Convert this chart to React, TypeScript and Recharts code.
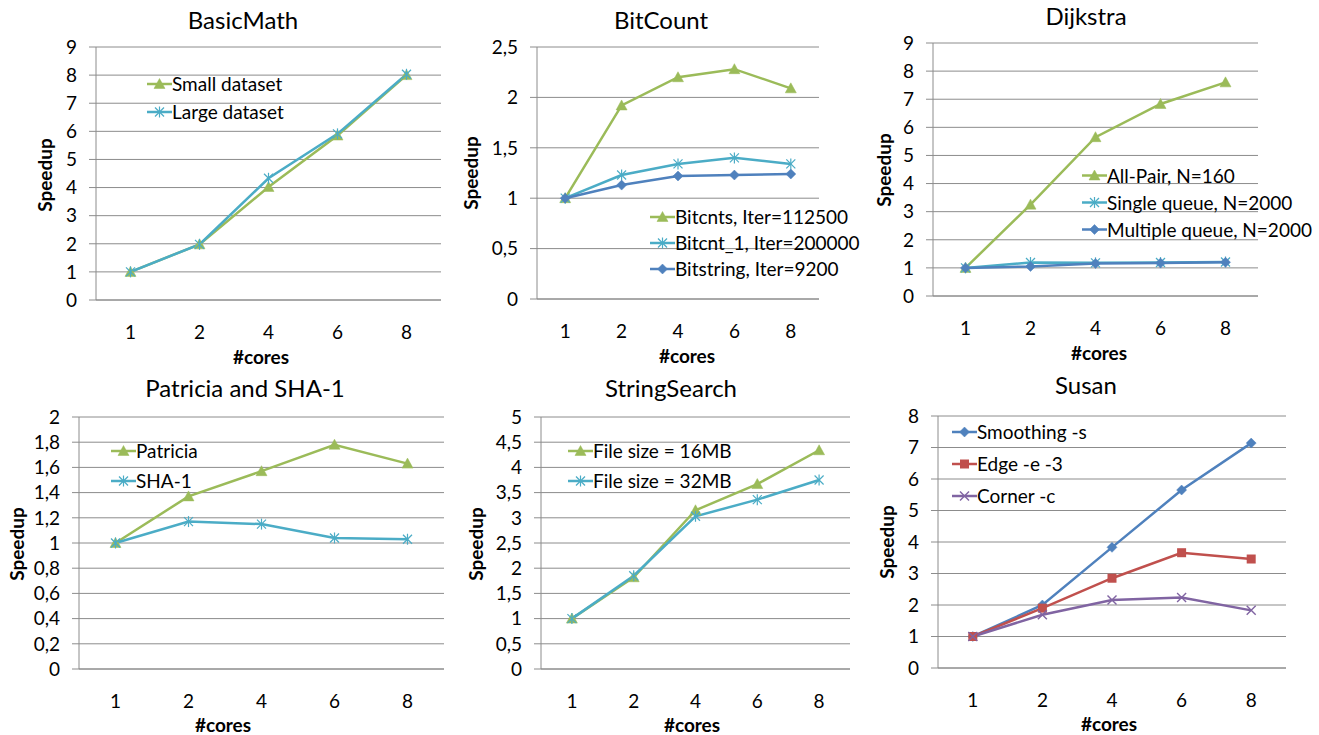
import React from 'react';
import { LineChart, Line, XAxis, YAxis, CartesianGrid, Legend } from 'recharts';

// ---------- DATA ----------
const cores = ['1', '2', '4', '6', '8'];

const basicSmall = [1, 1.98, 4.02, 5.85, 8.0];
const basicLarge = [1, 1.98, 4.33, 5.91, 8.03];
const basicTicks = [0, 1, 2, 3, 4, 5, 6, 7, 8, 9];

const bitcnts = [1, 1.92, 2.2, 2.28, 2.09];
const bitcnt1 = [1, 1.23, 1.34, 1.4, 1.34];
const bitstring = [1, 1.13, 1.22, 1.23, 1.24];
const bitTicks = [0, 0.5, 1, 1.5, 2, 2.5];

const allPair = [1, 3.25, 5.65, 6.83, 7.6];
const singleQueue = [1, 1.19, 1.18, 1.19, 1.21];
const multipleQueue = [1, 1.05, 1.16, 1.17, 1.2];
const dijTicks = [0, 1, 2, 3, 4, 5, 6, 7, 8, 9];

const patricia = [1, 1.37, 1.57, 1.78, 1.63];
const sha1 = [1, 1.17, 1.15, 1.04, 1.03];
const patTicks = [0, 0.2, 0.4, 0.6, 0.8, 1, 1.2, 1.4, 1.6, 1.8, 2];

const ss16 = [1, 1.82, 3.15, 3.67, 4.34];
const ss32 = [1, 1.85, 3.03, 3.36, 3.75];
const ssTicks = [0, 0.5, 1, 1.5, 2, 2.5, 3, 3.5, 4, 4.5, 5];

const smoothing = [1, 2.0, 3.83, 5.65, 7.14];
const edge = [1, 1.9, 2.85, 3.66, 3.46];
const corner = [1, 1.69, 2.16, 2.24, 1.83];
const susanTicks = [0, 1, 2, 3, 4, 5, 6, 7, 8];

// ---------- STYLE ----------
const FONT = 'Lato, "Open Sans", sans-serif';
const GREEN = '#9BBB59';
const CYAN = '#4BACC6';
const BLUE = '#4F81BD';
const RED = '#C0504D';
const PURPLE = '#8064A2';
const GRID = '#8c8c8c';
const TEXT_SIZE = 19;

type Shape = 'triangle' | 'star' | 'diamond' | 'square' | 'x';
interface Series { name: string; values: number[]; color: string; shape: Shape; }
interface Box { x: number; y: number; w: number; h: number; }
interface Plot { l: number; r: number; t: number; b: number; }
interface Cfg {
  title: string;
  box: Box;
  plot: Plot;
  ticks: number[];
  series: Series[];
  legend: { x: number; y: number; rowH: number };
  titlePos: { x: number; y: number };
  yLabelPos: { x: number; y: number };
  xLabelPos: { x: number; y: number };
}

function Marker({ shape, color, cx, cy }: { shape: Shape; color: string; cx: number; cy: number }) {
  if (cx == null || cy == null || isNaN(cx) || isNaN(cy)) return <g />;
  switch (shape) {
    case 'triangle':
      return <polygon points={`${cx},${cy - 5.5} ${cx + 5.5},${cy + 4.5} ${cx - 5.5},${cy + 4.5}`} fill={color} stroke={color} strokeWidth={0.5} />;
    case 'diamond':
      return <polygon points={`${cx},${cy - 5} ${cx + 5},${cy} ${cx},${cy + 5} ${cx - 5},${cy}`} fill={color} stroke={color} strokeWidth={0.5} />;
    case 'square':
      return <rect x={cx - 4.5} y={cy - 4.5} width={9} height={9} fill={color} />;
    case 'x':
      return (
        <g stroke={color} strokeWidth={1.4}>
          <line x1={cx - 4.5} y1={cy - 4.5} x2={cx + 4.5} y2={cy + 4.5} />
          <line x1={cx - 4.5} y1={cy + 4.5} x2={cx + 4.5} y2={cy - 4.5} />
        </g>
      );
    case 'star':
    default:
      return (
        <g stroke={color} strokeWidth={1.2}>
          <line x1={cx - 4.5} y1={cy - 4.5} x2={cx + 4.5} y2={cy + 4.5} />
          <line x1={cx - 4.5} y1={cy + 4.5} x2={cx + 4.5} y2={cy - 4.5} />
          <line x1={cx} y1={cy - 5.5} x2={cx} y2={cy + 5.5} />
        </g>
      );
  }
}

const makeDot = (shape: Shape, color: string) => (props: any) => {
  const { cx, cy, index } = props;
  return <Marker key={`dot-${index}`} shape={shape} color={color} cx={cx} cy={cy} />;
};

const fmt = (v: number) => String(v).replace('.', ',');

const panels: Cfg[] = [
  {
    title: 'BasicMath',
    box: { x: 0, y: 0, w: 450, h: 370 },
    plot: { l: 96, r: 441, t: 47, b: 300 },
    ticks: basicTicks,
    series: [
      { name: 'Small dataset', values: basicSmall, color: GREEN, shape: 'triangle' },
      { name: 'Large dataset', values: basicLarge, color: CYAN, shape: 'star' },
    ],
    legend: { x: 147, y: 84, rowH: 28 },
    titlePos: { x: 243, y: 20 },
    yLabelPos: { x: 45, y: 175 },
    xLabelPos: { x: 261, y: 357 },
  },
  {
    title: 'BitCount',
    box: { x: 450, y: 0, w: 420, h: 370 },
    plot: { l: 537, r: 819, t: 47, b: 299 },
    ticks: bitTicks,
    series: [
      { name: 'Bitcnts, Iter=112500', values: bitcnts, color: GREEN, shape: 'triangle' },
      { name: 'Bitcnt_1, Iter=200000', values: bitcnt1, color: CYAN, shape: 'star' },
      { name: 'Bitstring, Iter=9200', values: bitstring, color: BLUE, shape: 'diamond' },
    ],
    legend: { x: 650, y: 217, rowH: 26 },
    titlePos: { x: 661, y: 20 },
    yLabelPos: { x: 471, y: 173 },
    xLabelPos: { x: 687, y: 356 },
  },
  {
    title: 'Dijkstra',
    box: { x: 870, y: 0, w: 449, h: 370 },
    plot: { l: 933, r: 1258, t: 43, b: 296 },
    ticks: dijTicks,
    series: [
      { name: 'All-Pair, N=160', values: allPair, color: GREEN, shape: 'triangle' },
      { name: 'Single queue, N=2000', values: singleQueue, color: CYAN, shape: 'star' },
      { name: 'Multiple queue, N=2000', values: multipleQueue, color: BLUE, shape: 'diamond' },
    ],
    legend: { x: 1082, y: 175, rowH: 27 },
    titlePos: { x: 1086, y: 16 },
    yLabelPos: { x: 884, y: 170 },
    xLabelPos: { x: 1099, y: 353 },
  },
  {
    title: 'Patricia and SHA-1',
    box: { x: 0, y: 370, w: 450, h: 365 },
    plot: { l: 79, r: 444, t: 417, b: 669 },
    ticks: patTicks,
    series: [
      { name: 'Patricia', values: patricia, color: GREEN, shape: 'triangle' },
      { name: 'SHA-1', values: sha1, color: CYAN, shape: 'star' },
    ],
    legend: { x: 111, y: 451, rowH: 30 },
    titlePos: { x: 245, y: 388 },
    yLabelPos: { x: 17, y: 544 },
    xLabelPos: { x: 223, y: 725 },
  },
  {
    title: 'StringSearch',
    box: { x: 450, y: 370, w: 420, h: 365 },
    plot: { l: 541, r: 850, t: 417, b: 669 },
    ticks: ssTicks,
    series: [
      { name: 'File size = 16MB', values: ss16, color: GREEN, shape: 'triangle' },
      { name: 'File size = 32MB', values: ss32, color: CYAN, shape: 'star' },
    ],
    legend: { x: 568, y: 451, rowH: 30 },
    titlePos: { x: 671, y: 388 },
    yLabelPos: { x: 476, y: 544 },
    xLabelPos: { x: 692, y: 725 },
  },
  {
    title: 'Susan',
    box: { x: 870, y: 370, w: 449, h: 365 },
    plot: { l: 938, r: 1286, t: 416, b: 668 },
    ticks: susanTicks,
    series: [
      { name: 'Smoothing -s', values: smoothing, color: BLUE, shape: 'diamond' },
      { name: 'Edge -e -3', values: edge, color: RED, shape: 'square' },
      { name: 'Corner -c', values: corner, color: PURPLE, shape: 'x' },
    ],
    legend: { x: 952, y: 432, rowH: 32 },
    titlePos: { x: 1086, y: 385 },
    yLabelPos: { x: 887, y: 542 },
    xLabelPos: { x: 1109, y: 724 },
  },
];

function Txt({ x, y, children, size, bold, rotate }: any) {
  return (
    <div
      style={{
        position: 'absolute',
        left: x,
        top: y,
        transform: `translate(-50%, -50%)${rotate ? ' rotate(-90deg)' : ''}`,
        fontFamily: FONT,
        fontSize: size,
        fontWeight: bold ? 700 : 400,
        lineHeight: 0.85,
        whiteSpace: 'nowrap',
        color: '#000',
      }}
    >
      {children}
    </div>
  );
}

function LegendBox({ series, rowH }: { series: Series[]; rowH: number }) {
  return (
    <div>
      {series.map((s) => (
        <div key={s.name} style={{ display: 'flex', alignItems: 'center', height: rowH }}>
          <svg width={25} height={rowH} style={{ display: 'block' }}>
            <line x1={0} x2={25} y1={rowH / 2} y2={rowH / 2} stroke={s.color} strokeWidth={2.5} />
            <Marker shape={s.shape} color={s.color} cx={12.5} cy={rowH / 2} />
          </svg>
          <span style={{ fontFamily: FONT, fontSize: TEXT_SIZE, lineHeight: `${rowH}px`, whiteSpace: 'nowrap', color: '#000' }}>
            {s.name}
          </span>
        </div>
      ))}
    </div>
  );
}

function Panel({ cfg }: { cfg: Cfg }) {
  const { box, plot } = cfg;
  const data = cores.map((c, i) => {
    const row: any = { cores: c };
    cfg.series.forEach((s, j) => {
      row['s' + j] = s.values[i];
    });
    return row;
  });
  const xAxisH = 40;
  const margin = {
    top: plot.t - box.y,
    right: box.x + box.w - plot.r,
    bottom: box.y + box.h - plot.b - xAxisH,
    left: 0,
  };
  const pad = (plot.r - plot.l) / 10;
  const maxY = cfg.ticks[cfg.ticks.length - 1];
  const tickStyle = { fill: '#000', fontSize: TEXT_SIZE, fontFamily: FONT };
  return (
    <div style={{ position: 'absolute', left: box.x, top: box.y, width: box.w, height: box.h }}>
      <LineChart width={box.w} height={box.h} data={data} margin={margin}>
        <CartesianGrid vertical={false} stroke={GRID} strokeWidth={1} />
        <XAxis
          dataKey="cores"
          padding={{ left: pad, right: pad }}
          height={xAxisH}
          tickLine={false}
          tickSize={0}
          tickMargin={26}
          axisLine={{ stroke: GRID }}
          tick={tickStyle}
          interval={0}
        />
        <YAxis
          type="number"
          width={plot.l - box.x}
          domain={[0, maxY]}
          ticks={cfg.ticks}
          tickFormatter={fmt}
          tickSize={7}
          tickMargin={12}
          tickLine={{ stroke: GRID }}
          axisLine={{ stroke: GRID }}
          tick={tickStyle}
          interval={0}
        />
        {cfg.series.map((s, j) => (
          <Line
            key={s.name}
            dataKey={'s' + j}
            name={s.name}
            stroke={s.color}
            strokeWidth={2.5}
            dot={makeDot(s.shape, s.color)}
            activeDot={false}
            isAnimationActive={false}
          />
        ))}
        <Legend
          layout="horizontal"
          verticalAlign="middle"
          align="center"
          content={() => <LegendBox series={cfg.series} rowH={cfg.legend.rowH} />}
          wrapperStyle={{
            left: cfg.legend.x - box.x,
            top: cfg.legend.y - cfg.legend.rowH / 2 - box.y,
            width: 'auto',
            height: 'auto',
          }}
        />
      </LineChart>
      <Txt x={cfg.titlePos.x - box.x} y={cfg.titlePos.y - box.y} size={24}>{cfg.title}</Txt>
      <Txt x={cfg.yLabelPos.x - box.x} y={cfg.yLabelPos.y - box.y} size={19} bold rotate>Speedup</Txt>
      <Txt x={cfg.xLabelPos.x - box.x} y={cfg.xLabelPos.y - box.y} size={19} bold>#cores</Txt>
    </div>
  );
}

export default function App() {
  return (
    <div style={{ position: 'absolute', left: 0, top: 0, width: 1319, height: 735, background: '#fff', overflow: 'hidden' }}>
      {panels.map((p) => (
        <Panel key={p.title} cfg={p} />
      ))}
    </div>
  );
}
